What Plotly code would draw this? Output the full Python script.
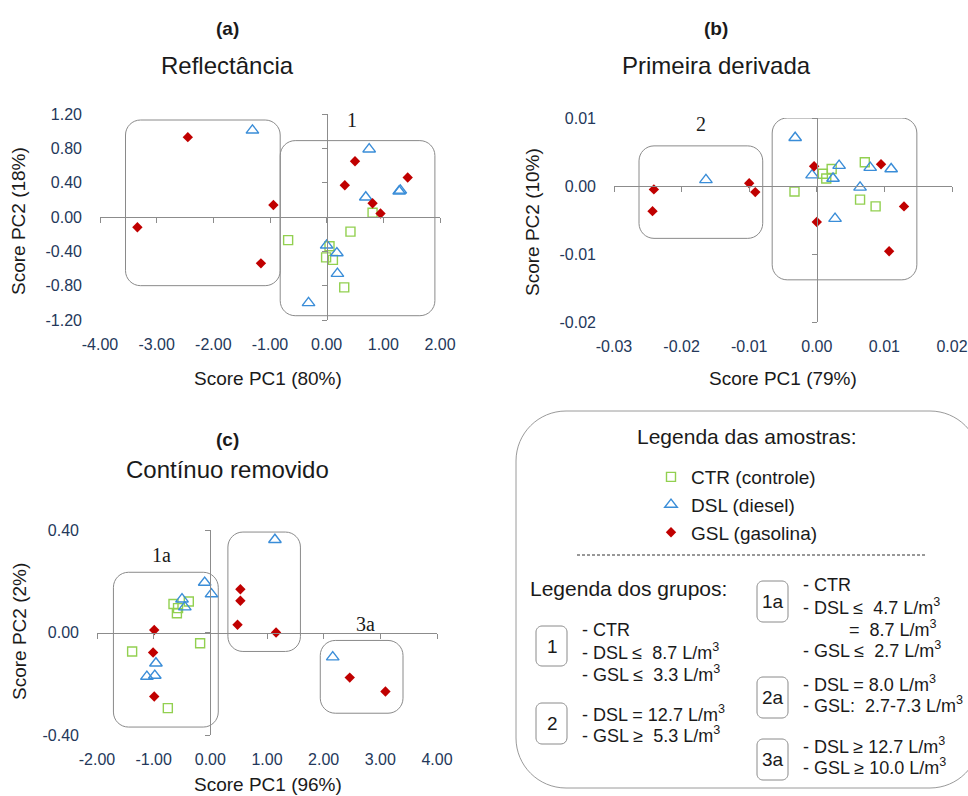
import plotly.graph_objects as go

W, H = 968, 796


def fx(p):
    return p / W


def fy(p):
    return 1 - p / H


# ---------------- data ----------------
series_names = ["CTR (controle)", "DSL (diesel)", "GSL (gasolina)"]

# (a) Reflectância
a_ctr_x = [-0.68, 0.81, 0.42, 0.05, -0.01, 0.11, 0.31]
a_ctr_y = [-0.27, 0.05, -0.17, -0.34, -0.47, -0.50, -0.82]
a_dsl_x = [-1.31, 0.75, 0.69, 1.28, 1.30, 0.00, 0.18, 0.19, -0.32]
a_dsl_y = [1.01, 0.79, 0.23, 0.30, 0.31, -0.33, -0.42, -0.66, -1.00]
a_gsl_x = [-2.45, -0.94, -3.34, -1.16, 0.50, 0.32, 1.43, 0.81, 0.95]
a_gsl_y = [0.93, 0.14, -0.12, -0.54, 0.65, 0.37, 0.46, 0.16, 0.04]

# (b) Primeira derivada
b_ctr_x = [-0.0033, 0.0009, 0.0014, 0.0022, 0.0071, 0.0064, 0.0087]
b_ctr_y = [-0.0008, 0.0018, 0.0011, 0.0025, 0.0035, -0.0020, -0.0030]
b_dsl_x = [-0.0164, -0.0032, -0.0007, 0.0033, 0.0024, 0.0064, 0.0079, 0.0110, 0.0027]
b_dsl_y = [0.0009, 0.0071, 0.0016, 0.0030, 0.0011, -0.0002, 0.0027, 0.0025, -0.0048]
b_gsl_x = [-0.0241, -0.0243, -0.0100, -0.0091, -0.0004, 0.0000, 0.0095, 0.0129, 0.0107]
b_gsl_y = [-0.0005, -0.0037, 0.0004, -0.0009, 0.0029, -0.0053, 0.0032, -0.0030, -0.0096]

# (c) Contínuo removido
c_ctr_x = [-0.65, -0.57, -0.59, -0.38, -0.18, -1.38, -0.75]
c_ctr_y = [0.111, 0.095, 0.075, 0.121, -0.042, -0.074, -0.295]
c_dsl_x = [1.14, -0.10, 0.02, -0.50, -0.45, -0.96, -1.12, -0.98, 2.16]
c_dsl_y = [0.362, 0.195, 0.150, 0.130, 0.099, -0.120, -0.172, -0.168, -0.096]
c_gsl_x = [-0.99, -1.01, -0.99, 0.53, 0.53, 0.48, 1.16, 2.46, 3.09]
c_gsl_y = [0.010, -0.078, -0.250, 0.169, 0.124, 0.030, 0.000, -0.176, -0.230]

# ticks
a_xticks = [-4, -3, -2, -1, 0, 1, 2]
a_xlabels = ["-4.00", "-3.00", "-2.00", "-1.00", "0.00", "1.00", "2.00"]
a_yticks = [-1.2, -0.8, -0.4, 0, 0.4, 0.8, 1.2]
a_ylabels = ["-1.20", "-0.80", "-0.40", "0.00", "0.40", "0.80", "1.20"]
b_xticks = [-0.03, -0.02, -0.01, 0, 0.01, 0.02]
b_xlabels = ["-0.03", "-0.02", "-0.01", "0.00", "0.01", "0.02"]
b_yticks = [-0.02, -0.01, 0, 0.01]
b_ylabels = ["-0.02", "-0.01", "0.00", "0.01"]
c_xticks = [-2, -1, 0, 1, 2, 3, 4]
c_xlabels = ["-2.00", "-1.00", "0.00", "1.00", "2.00", "3.00", "4.00"]
c_yticks = [-0.4, 0, 0.4]
c_ylabels = ["-0.40", "0.00", "0.40"]

# group boxes: label, x0, x1, y0, y1, label x, label y
a_groups = [("2", -3.55, -0.82, -0.80, 1.13, -2.10, 1.26),
            ("1", -0.82, 1.91, -1.15, 0.89, 0.44, 1.13)]
b_groups = [("2", -0.0263, -0.0080, -0.0077, 0.0059, -0.0172, 0.0091),
            ("1", -0.0066, 0.0148, -0.0138, 0.0100, 0.0039, 0.0122)]
c_groups = [("1a", -1.71, 0.14, -0.369, 0.235, -0.87, 0.303),
            ("2a", 0.31, 1.59, -0.074, 0.392, 0.93, 0.453),
            ("3a", 1.94, 3.40, -0.315, -0.031, 2.74, 0.034)]

# legend of groups (text)
grp_left = [("1", ["- CTR", "- DSL ≤\u00a0 8.7 L/m<sup>3</sup>", "- GSL ≤\u00a0 3.3 L/m<sup>3</sup>"]),
            ("2", ["- DSL = 12.7 L/m<sup>3</sup>", "- GSL ≥\u00a0 5.3 L/m<sup>3</sup>"])]
grp_right = [("1a", ["- CTR", "- DSL ≤\u00a0 4.7 L/m<sup>3</sup>", "=\u00a0 8.7 L/m<sup>3</sup>", "- GSL ≤\u00a0 2.7 L/m<sup>3</sup>"]),
             ("2a", ["- DSL = 8.0 L/m<sup>3</sup>", "- GSL:\u00a0 2.7-7.3 L/m<sup>3</sup>"]),
             ("3a", ["- DSL ≥ 12.7 L/m<sup>3</sup>", "- GSL ≥ 10.0 L/m<sup>3</sup>"])]

# ---------------- style ----------------
CTR_C = "#92D050"
DSL_C = "#3A8DD8"
GSL_C = "#C00000"
SANS = "Liberation Sans"
SERIF = "Liberation Serif"
TICK_C = "#24385A"
AX_C = "#8C8C8C"
TXT_C = "#1A1A1A"

panels = [
    dict(n=1, cx=a_ctr_x, cy=a_ctr_y, dx=a_dsl_x, dy=a_dsl_y, gx=a_gsl_x, gy=a_gsl_y,
         xr=[-4, 2], yr=[-1.2, 1.2], xd=(100, 440), yd=(114, 320),
         xt=a_xticks, xl=a_xlabels, yt=a_yticks, yl=a_ylabels, groups=a_groups,
         tag="(a)", title="Reflectância", tcx=227, tagy=28, tity=65,
         xtitle="Score PC1 (80%)", xtx=268, xty=378, ytitle="Score PC2 (18%)", ytx=19, yty=221),
    dict(n=2, cx=b_ctr_x, cy=b_ctr_y, dx=b_dsl_x, dy=b_dsl_y, gx=b_gsl_x, gy=b_gsl_y,
         xr=[-0.03, 0.02], yr=[-0.02, 0.01], xd=(614, 952), yd=(118, 322),
         xt=b_xticks, xl=b_xlabels, yt=b_yticks, yl=b_ylabels, groups=b_groups,
         tag="(b)", title="Primeira derivada", tcx=716, tagy=28, tity=65,
         xtitle="Score PC1 (79%)", xtx=783, xty=378, ytitle="Score PC2 (10%)", ytx=533, yty=222),
    dict(n=3, cx=c_ctr_x, cy=c_ctr_y, dx=c_dsl_x, dy=c_dsl_y, gx=c_gsl_x, gy=c_gsl_y,
         xr=[-2, 4], yr=[-0.4, 0.4], xd=(97, 437), yd=(530, 735),
         xt=c_xticks, xl=c_xlabels, yt=c_yticks, yl=c_ylabels, groups=c_groups,
         tag="(c)", title="Contínuo removido", tcx=227, tagy=440, tity=470,
         xtitle="Score PC1 (96%)", xtx=268, xty=784, ytitle="Score PC2 (2%)", ytx=19, yty=632),
]

fig = go.Figure()
layout = dict(template="none", width=W, height=H,
              margin=dict(l=0, r=0, t=0, b=0, autoexpand=False),
              paper_bgcolor="white", plot_bgcolor="rgba(0,0,0,0)",
              showlegend=True)
annotations = []
shapes = []


def ann(x, y, text, size, family=SANS, xanchor="center", xref="paper", yref="paper", **kw):
    d = dict(x=x, y=y, xref=xref, yref=yref, text=text, showarrow=False,
             xanchor=xanchor, yanchor="middle",
             font=dict(family=family, size=size, color=TXT_C))
    d.update(kw)
    annotations.append(d)


def rr_path(x0, x1, y0, y1, rx, ry):
    k = 0.5523
    return (f"M {x0 + rx},{y1} L {x1 - rx},{y1} "
            f"C {x1 - rx + k * rx},{y1} {x1},{y1 - ry + k * ry} {x1},{y1 - ry} "
            f"L {x1},{y0 + ry} "
            f"C {x1},{y0 + ry - k * ry} {x1 - rx + k * rx},{y0} {x1 - rx},{y0} "
            f"L {x0 + rx},{y0} "
            f"C {x0 + rx - k * rx},{y0} {x0},{y0 + ry - k * ry} {x0},{y0 + ry} "
            f"L {x0},{y1 - ry} "
            f"C {x0},{y1 - ry + k * ry} {x0 + rx - k * rx},{y1} {x0 + rx},{y1} Z")


for p in panels:
    n = p["n"]
    xa = "x" if n == 1 else f"x{n}"
    ya = "y" if n == 1 else f"y{n}"
    xk = "xaxis" if n == 1 else f"xaxis{n}"
    yk = "yaxis" if n == 1 else f"yaxis{n}"
    cn = n + 3
    xd = [fx(p["xd"][0]), fx(p["xd"][1])]
    yd = [fy(p["yd"][1]), fy(p["yd"][0])]
    tickfont = dict(family=SANS, size=16, color=TICK_C)
    layout[xk] = dict(domain=xd, range=p["xr"], anchor=ya, tickvals=p["xt"], ticktext=p["xl"],
                      showline=False, showgrid=False, zeroline=False, ticks="", automargin=False,
                      tickfont=tickfont, ticklabelstandoff=13)
    layout[yk] = dict(domain=yd, range=p["yr"], anchor=xa, tickvals=p["yt"], ticktext=p["yl"],
                      showline=False, showgrid=False, zeroline=False, ticks="", automargin=False,
                      tickfont=tickfont, ticklabelstandoff=17)
    # axes crossing at zero (Excel style)
    wpx = p["xd"][1] - p["xd"][0]
    hpx = p["yd"][1] - p["yd"][0]
    x0px = p["xd"][0] + (0 - p["xr"][0]) / (p["xr"][1] - p["xr"][0]) * wpx
    y0px = p["yd"][0] + (p["yr"][1] - 0) / (p["yr"][1] - p["yr"][0]) * hpx
    layout[f"xaxis{cn}"] = dict(overlaying=xa, anchor="free", position=fy(y0px), range=p["xr"],
                                tickvals=p["xt"], showticklabels=False, ticks="outside", ticklen=5,
                                tickcolor=AX_C, tickwidth=1, showline=True, linecolor=AX_C, linewidth=1,
                                showgrid=False, zeroline=False, side="bottom", automargin=False)
    layout[f"yaxis{cn}"] = dict(overlaying=ya, anchor="free", position=fx(x0px), range=p["yr"],
                                tickvals=p["yt"], showticklabels=False, ticks="outside", ticklen=5,
                                tickcolor=AX_C, tickwidth=1, showline=True, linecolor=AX_C, linewidth=1,
                                showgrid=False, zeroline=False, side="left", automargin=False)
    fig.add_trace(go.Scatter(x=[None], y=[None], xaxis=f"x{cn}", yaxis=f"y{cn}",
                             showlegend=False, hoverinfo="skip", mode="markers"))

    # group boxes
    ux = wpx / (p["xr"][1] - p["xr"][0])
    uy = hpx / (p["yr"][1] - p["yr"][0])
    r = 15
    for lab, gx0, gx1, gy0, gy1, lx, ly in p["groups"]:
        shapes.append(dict(type="path", xref=xa, yref=ya,
                           path=rr_path(gx0, gx1, gy0, gy1, r / ux, r / uy),
                           line=dict(color="#8A8A8A", width=1), fillcolor="rgba(0,0,0,0)",
                           layer="below"))
        ann(lx, ly, lab, 20, family=SERIF, xref=xa, yref=ya)

    show = n == 1
    fig.add_trace(go.Scatter(x=p["cx"], y=p["cy"], xaxis=xa, yaxis=ya, mode="markers",
                             name=series_names[0], legendgroup="ctr", showlegend=show,
                             marker=dict(symbol="square-open", size=9, color=CTR_C,
                                         line=dict(width=1.4, color=CTR_C))))
    fig.add_trace(go.Scatter(x=p["dx"], y=p["dy"], xaxis=xa, yaxis=ya, mode="markers",
                             name=series_names[1], legendgroup="dsl", showlegend=show,
                             marker=dict(symbol="triangle-up-open", size=11, color=DSL_C,
                                         line=dict(width=1.4, color=DSL_C))))
    fig.add_trace(go.Scatter(x=p["gx"], y=p["gy"], xaxis=xa, yaxis=ya, mode="markers",
                             name=series_names[2], legendgroup="gsl", showlegend=show,
                             marker=dict(symbol="diamond", size=8, color=GSL_C,
                                         line=dict(width=0))))

    # titles
    ann(fx(p["tcx"]), fy(p["tagy"]), f"<b>{p['tag']}</b>", 19)
    ann(fx(p["tcx"]), fy(p["tity"]), p["title"], 24)
    ann(fx(p["xtx"]), fy(p["xty"]), p["xtitle"], 19)
    ann(fx(p["ytx"]), fy(p["yty"]), p["ytitle"], 19, textangle=-90)


# ---------------- legend box ----------------
def px_rr_path(x0, x1, y0, y1, r):
    # pixel coords (y downward) -> paper path
    k = 0.5523
    P = lambda x, y: f"{fx(x)},{fy(y)}"
    return (f"M {P(x0 + r, y0)} L {P(x1 - r, y0)} "
            f"C {P(x1 - r + k * r, y0)} {P(x1, y0 + r - k * r)} {P(x1, y0 + r)} "
            f"L {P(x1, y1 - r)} "
            f"C {P(x1, y1 - r + k * r)} {P(x1 - r + k * r, y1)} {P(x1 - r, y1)} "
            f"L {P(x0 + r, y1)} "
            f"C {P(x0 + r - k * r, y1)} {P(x0, y1 - r + k * r)} {P(x0, y1 - r)} "
            f"L {P(x0, y0 + r)} "
            f"C {P(x0, y0 + r - k * r)} {P(x0 + r - k * r, y0)} {P(x0 + r, y0)} Z")


shapes.append(dict(type="path", xref="paper", yref="paper",
                   path=px_rr_path(516, 980, 411, 788, 50),
                   line=dict(color="#9A9A9A", width=1), fillcolor="rgba(0,0,0,0)"))
shapes.append(dict(type="line", xref="paper", yref="paper", x0=fx(577), x1=fx(927),
                   y0=fy(555), y1=fy(555), line=dict(color="#333333", width=1, dash="3px,2px")))

ann(fx(746), fy(436), "Legenda das amostras:", 21)
ann(fx(528), fy(588), "Legenda dos grupos:", 21, xanchor="left")

line_h = 21.5
left_boxes = [(626, 666, 630), (703, 744, 713)]
right_boxes = [(581, 622, 585), (677, 718, 683), (739, 780, 745)]
for (lab, lines), (by0, by1, ty) in zip(grp_left, left_boxes):
    shapes.append(dict(type="path", xref="paper", yref="paper",
                       path=px_rr_path(536, 567, by0, by1, 6),
                       line=dict(color="#8A8A8A", width=1), fillcolor="rgba(0,0,0,0)"))
    ann(fx(552), fy((by0 + by1) / 2), lab, 19)
    for i, t in enumerate(lines):
        ann(fx(580), fy(ty + i * line_h), t, 18, xanchor="left")
for (lab, lines), (by0, by1, ty) in zip(grp_right, right_boxes):
    shapes.append(dict(type="path", xref="paper", yref="paper",
                       path=px_rr_path(757, 788, by0, by1, 6),
                       line=dict(color="#8A8A8A", width=1), fillcolor="rgba(0,0,0,0)"))
    ann(fx(772.5), fy((by0 + by1) / 2), lab, 19)
    for i, t in enumerate(lines):
        xl = 847 if t.startswith("=") else 801
        ann(fx(xl), fy(ty + i * line_h), t, 18, xanchor="left")

layout["legend"] = dict(x=fx(651), y=fy(458), xanchor="left", yanchor="top",
                        font=dict(family=SANS, size=19, color=TXT_C),
                        bgcolor="rgba(0,0,0,0)", tracegroupgap=0)
layout["annotations"] = annotations
layout["shapes"] = shapes
fig.update_layout(**layout)
fig.write_html("out.html", config={"displayModeBar": False},
               post_script="document.body.style.margin='0';document.body.style.overflow='hidden';")
